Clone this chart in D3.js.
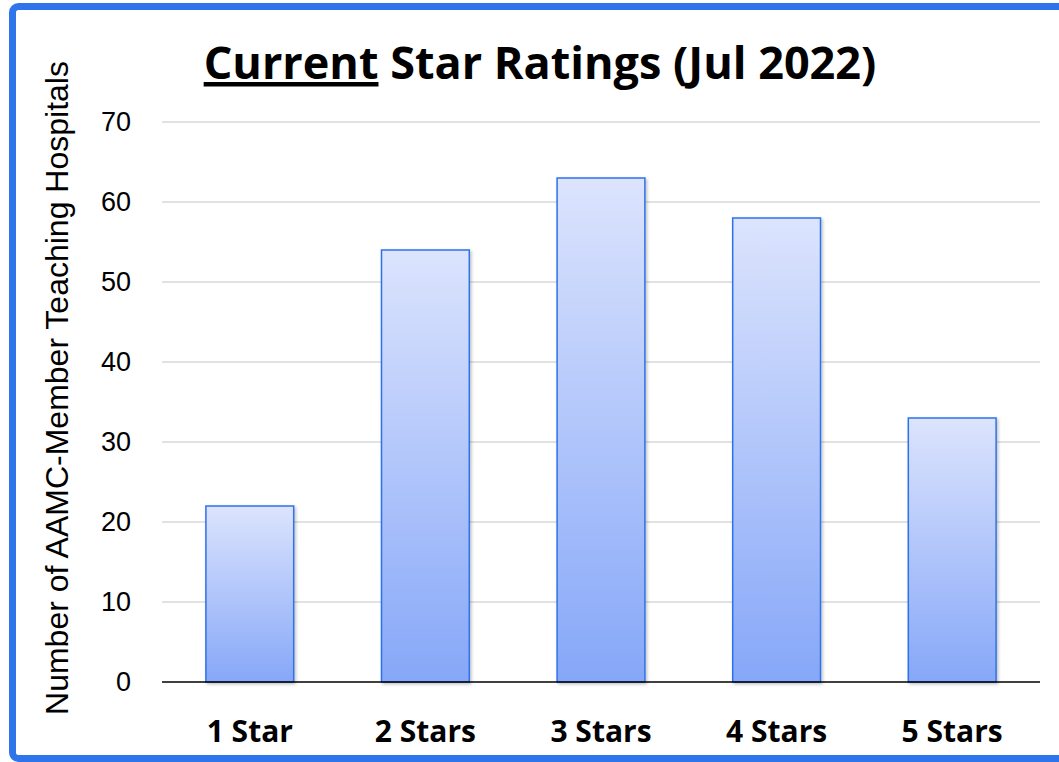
<!DOCTYPE html>
<html>
<head>
<meta charset="utf-8">
<script src="https://cdn.jsdelivr.net/npm/d3@7"></script>
<style>
  body { margin: 0; background: #fff; }
  svg { display: block; }
</style>
</head>
<body>
<script>
"use strict";

// chart values
const categories = ["1 Star", "2 Stars", "3 Stars", "4 Stars", "5 Stars"];
const hospitalCounts = [22, 54, 63, 58, 33];
const yTickValues = [0, 10, 20, 30, 40, 50, 60, 70];
const titleUnderlined = "Current";
const titleRest = " Star Ratings (Jul 2022)";
const yAxisTitle = "Number of AAMC-Member Teaching Hospitals";

const measurements = {
    width: 1059,
    height: 762,
    left: 162,
    right: 1040,
    top: 122,
    bottom: 682
};

const svg = d3.select("body").append("svg")
    .attr("width", measurements.width)
    .attr("height", measurements.height);

// gradient for the bars
const defs = svg.append("defs");
const grad = defs.append("linearGradient")
    .attr("id", "barFill")
    .attr("x1", 0).attr("y1", 0).attr("x2", 0).attr("y2", 1);
grad.append("stop").attr("offset", "0%").attr("stop-color", "#dce4fd");
grad.append("stop").attr("offset", "100%").attr("stop-color", "#86a7f8");

const shadow = defs.append("filter").attr("id", "shadow")
    .attr("x", "-10%").attr("y", "-10%").attr("width", "130%").attr("height", "130%");
shadow.append("feDropShadow")
    .attr("dx", 1.5).attr("dy", 1.5).attr("stdDeviation", 1.5)
    .attr("flood-color", "#000").attr("flood-opacity", 0.25);

// blue frame
svg.append("rect")
    .attr("x", 12.5).attr("y", 6.5)
    .attr("width", 1080).attr("height", 752)
    .attr("rx", 6)
    .attr("fill", "none")
    .attr("stroke", "#2e74ea")
    .attr("stroke-width", 7);

const x = d3.scaleBand()
    .domain(categories)
    .range([measurements.left, measurements.right])
    .paddingInner(0.5)
    .paddingOuter(0.25);

const y = d3.scaleLinear()
    .domain([0, 70])
    .range([measurements.bottom, measurements.top]);

// gridlines
svg.append("g")
    .selectAll("line")
    .data(yTickValues.filter(d => d > 0))
    .enter()
    .append("line")
    .attr("x1", measurements.left)
    .attr("x2", measurements.right)
    .attr("y1", d => y(d))
    .attr("y2", d => y(d))
    .attr("stroke", "#d9d9d9")
    .attr("stroke-width", 1.5);

// y axis labels
const yAxis = d3.axisLeft(y).tickValues(yTickValues).tickSize(0).tickPadding(31);
const yg = svg.append("g")
    .attr("transform", `translate(${measurements.left},0)`)
    .call(yAxis);
yg.select(".domain").remove();
yg.selectAll("text")
    .attr("font-family", "'Liberation Sans', Arial, sans-serif")
    .attr("font-size", 27)
    .attr("fill", "#000");

// bars
svg.append("g")
    .selectAll("rect")
    .data(hospitalCounts)
    .enter()
    .append("rect")
    .attr("x", (d, i) => x(categories[i]))
    .attr("y", d => y(d))
    .attr("width", x.bandwidth())
    .attr("height", d => y(0) - y(d))
    .attr("fill", "url(#barFill)")
    .attr("stroke", "#2f72e8")
    .attr("stroke-width", 1.5)
    .attr("filter", "url(#shadow)");

// baseline
svg.append("line")
    .attr("x1", measurements.left)
    .attr("x2", measurements.right)
    .attr("y1", y(0))
    .attr("y2", y(0))
    .attr("stroke", "#000")
    .attr("stroke-width", 1.5);

// x axis labels
const xAxis = d3.axisBottom(x).tickSize(0);
const xg = svg.append("g")
    .attr("transform", `translate(0,${measurements.bottom})`)
    .call(xAxis);
xg.select(".domain").remove();
xg.selectAll("text")
    .attr("y", 60)
    .attr("dy", 0)
    .attr("font-family", "'Open Sans', sans-serif")
    .attr("font-weight", "bold")
    .attr("font-size", 30)
    .attr("fill", "#000");

// y axis title
svg.append("text")
    .attr("transform", `translate(68,${(60 + 716) / 2}) rotate(-90)`)
    .attr("text-anchor", "middle")
    .attr("font-family", "'Liberation Sans', Arial, sans-serif")
    .attr("font-size", 32)
    .attr("fill", "#000")
    .text(yAxisTitle);

// title
const title = svg.append("text")
    .attr("x", 540)
    .attr("y", 79)
    .attr("text-anchor", "middle")
    .attr("font-family", "'Open Sans', sans-serif")
    .attr("font-weight", "bold")
    .attr("font-size", 45)
    .attr("fill", "#000");
title.append("tspan").attr("text-decoration", "underline").text(titleUnderlined);
title.append("tspan").text(titleRest);
</script>
</body>
</html>
